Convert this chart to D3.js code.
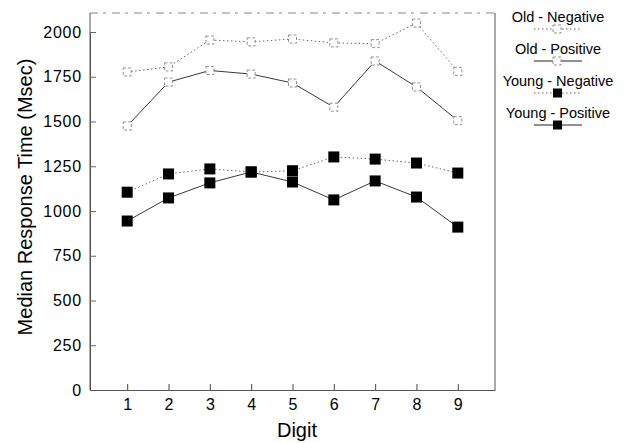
<!DOCTYPE html>
<html><head><meta charset="utf-8">
<script src="https://cdn.jsdelivr.net/npm/d3@7"></script>
<style>body{margin:0;background:#fff}svg{font-family:Arial,"Liberation Sans",sans-serif}</style>
</head><body><svg id="c" width="624" height="443"></svg>
<script>
const digits = [1,2,3,4,5,6,7,8,9];
const oldNegative   = [1777,1805,1955,1945,1961,1939,1935,2050,1780];
const oldPositive   = [1475,1720,1785,1765,1715,1580,1838,1693,1505];
const youngNegative = [1105,1207,1235,1218,1225,1302,1290,1268,1212];
const youngPositive = [944,1073,1157,1218,1162,1062,1168,1078,910];
const yTicks = [0,250,500,750,1000,1250,1500,1750,2000];
const seriesNames = ["Old - Negative","Old - Positive","Young - Negative","Young - Positive"];

const series = [
  {name:seriesNames[0], values:oldNegative, dotted:true, filled:false},
  {name:seriesNames[1], values:oldPositive, dotted:false, filled:false},
  {name:seriesNames[2], values:youngNegative, dotted:true, filled:true},
  {name:seriesNames[3], values:youngPositive, dotted:false, filled:true}
];

const svg = d3.select("#c");
const L=90,R=495,T=13,B=390;
const x = d3.scaleLinear().domain([0.1,9.9]).range([L,R]);
const y = d3.scaleLinear().domain([0,2000]).range([B,32]);

// frame
svg.append("line").attr("x1",L).attr("x2",R).attr("y1",T).attr("y2",T).attr("stroke","#888").attr("stroke-dasharray","8,5,3,6");
svg.append("line").attr("x1",R).attr("x2",R).attr("y1",T).attr("y2",B).attr("stroke","#555");
svg.append("line").attr("x1",L).attr("x2",L).attr("y1",T).attr("y2",B).attr("stroke","#555");

const ya = svg.append("g").attr("transform",`translate(${L},0)`)
  .call(d3.axisLeft(y).tickValues(yTicks).tickSize(-6).tickSizeOuter(0).tickPadding(8).tickFormat(d3.format("d")));
ya.select(".domain").attr("stroke","#555");
ya.selectAll(".tick line").attr("stroke","#666");
ya.selectAll("text").attr("font-size",16).attr("letter-spacing","0.8px").attr("fill","#000");

const xa = svg.append("g").attr("transform",`translate(0,${B})`)
  .call(d3.axisBottom(x).tickValues(digits).tickSize(-6).tickSizeOuter(0).tickPadding(9).tickFormat(d3.format("d")));
xa.select(".domain").attr("stroke","#555");
xa.selectAll(".tick line").attr("stroke","#444");
xa.selectAll("text").attr("font-size",16).attr("fill","#000");

svg.append("text").attr("x",297).attr("y",437).attr("text-anchor","middle").attr("font-size",20).text("Digit");
svg.append("text").attr("transform",`translate(32,197) rotate(-90)`).attr("text-anchor","middle").attr("font-size",20).text("Median Response Time (Msec)");

const line = d3.line().x((d,i)=>x(digits[i])).y(d=>y(d));

function marker(g, cx, cy, filled){
  if(filled){
    g.append("rect").attr("x",cx-5.5).attr("y",cy-5.5).attr("width",11).attr("height",11).attr("fill","#000");
  } else {
    g.append("rect").attr("x",cx-4).attr("y",cy-4).attr("width",8).attr("height",8).attr("fill","#fff").attr("stroke","#777").attr("stroke-width",0.8).attr("stroke-dasharray","3,2");
  }
}

series.forEach(s=>{
  svg.append("path").datum(s.values).attr("d",line).attr("fill","none")
    .attr("stroke",s.dotted?"#666":"#222").attr("stroke-width",s.dotted?1:0.9)
    .attr("stroke-dasharray",s.dotted?"1.5,2.5":null);
  const g = svg.append("g");
  s.values.forEach((v,i)=>marker(g,x(digits[i]),y(v),s.filled));
});

// legend
const legY = [[22,29],[54,61],[86,93],[118,125]];
series.forEach((s,i)=>{
  svg.append("text").attr("x",558).attr("y",legY[i][0]).attr("text-anchor","middle").attr("font-size",14.5).text(s.name);
  svg.append("line").attr("x1",534).attr("x2",582).attr("y1",legY[i][1]).attr("y2",legY[i][1])
    .attr("stroke",s.dotted?"#666":"#222").attr("stroke-width",1).attr("stroke-dasharray",s.dotted?"1.5,2.5":null);
  const mg = svg.append("g");
  if(s.filled){
    mg.append("rect").attr("x",553).attr("y",legY[i][1]-4.5).attr("width",9).attr("height",9).attr("fill","#000");
  } else marker(mg,557,legY[i][1],false);
});
</script></body></html>
